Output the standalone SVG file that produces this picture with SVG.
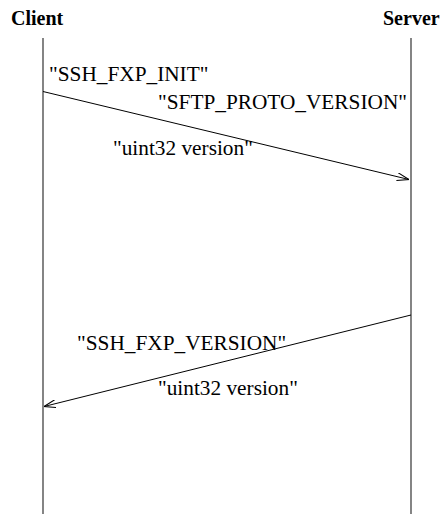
<svg xmlns="http://www.w3.org/2000/svg" width="441" height="516" viewBox="0 0 441 516">
<style>
.hdr{font-family:"Liberation Serif","Times New Roman",Times,serif;font-weight:bold;font-size:20px;fill:#000}
.lbl{font-family:"Liberation Serif","Times New Roman",Times,serif;font-size:21.3px;fill:#000}
.life{stroke:#666;stroke-width:1.6;fill:none}
.msg{stroke:#000;stroke-width:1;fill:none}
</style>
<defs>
<marker id="open" viewBox="0 0 12 8" refX="12" refY="4" markerWidth="12" markerHeight="8" markerUnits="userSpaceOnUse" orient="auto">
<path d="M0,0 L12,4 L0,8" fill="none" stroke="#000" stroke-width="1"/>
</marker>
</defs>
<rect width="441" height="516" fill="#fff"/>
<g id="client">
<text class="hdr" x="11" y="25" font-family="Liberation Serif, serif">Client</text>
<line class="life" x1="43" y1="38" x2="43" y2="514"/>
</g>
<g id="server">
<text class="hdr" x="383" y="25" font-family="Liberation Serif, serif">Server</text>
<line class="life" x1="411" y1="38" x2="411" y2="514"/>
</g>
<g id="connectors">
<line class="msg" x1="43" y1="91.5" x2="409" y2="179.5" marker-end="url(#open)"/>
<line class="msg" x1="411" y1="315" x2="44" y2="406.5" marker-end="url(#open)"/>
</g>
<g id="labels" font-family="Liberation Serif, serif">
<text class="lbl" x="49" y="81">"SSH_FXP_INIT"</text>
<text class="lbl" x="158" y="109">"SFTP_PROTO_VERSION"</text>
<text class="lbl" x="113" y="155">"uint32 version"</text>
<text class="lbl" x="77" y="350">"SSH_FXP_VERSION"</text>
<text class="lbl" x="158" y="395">"uint32 version"</text>
</g>
</svg>
